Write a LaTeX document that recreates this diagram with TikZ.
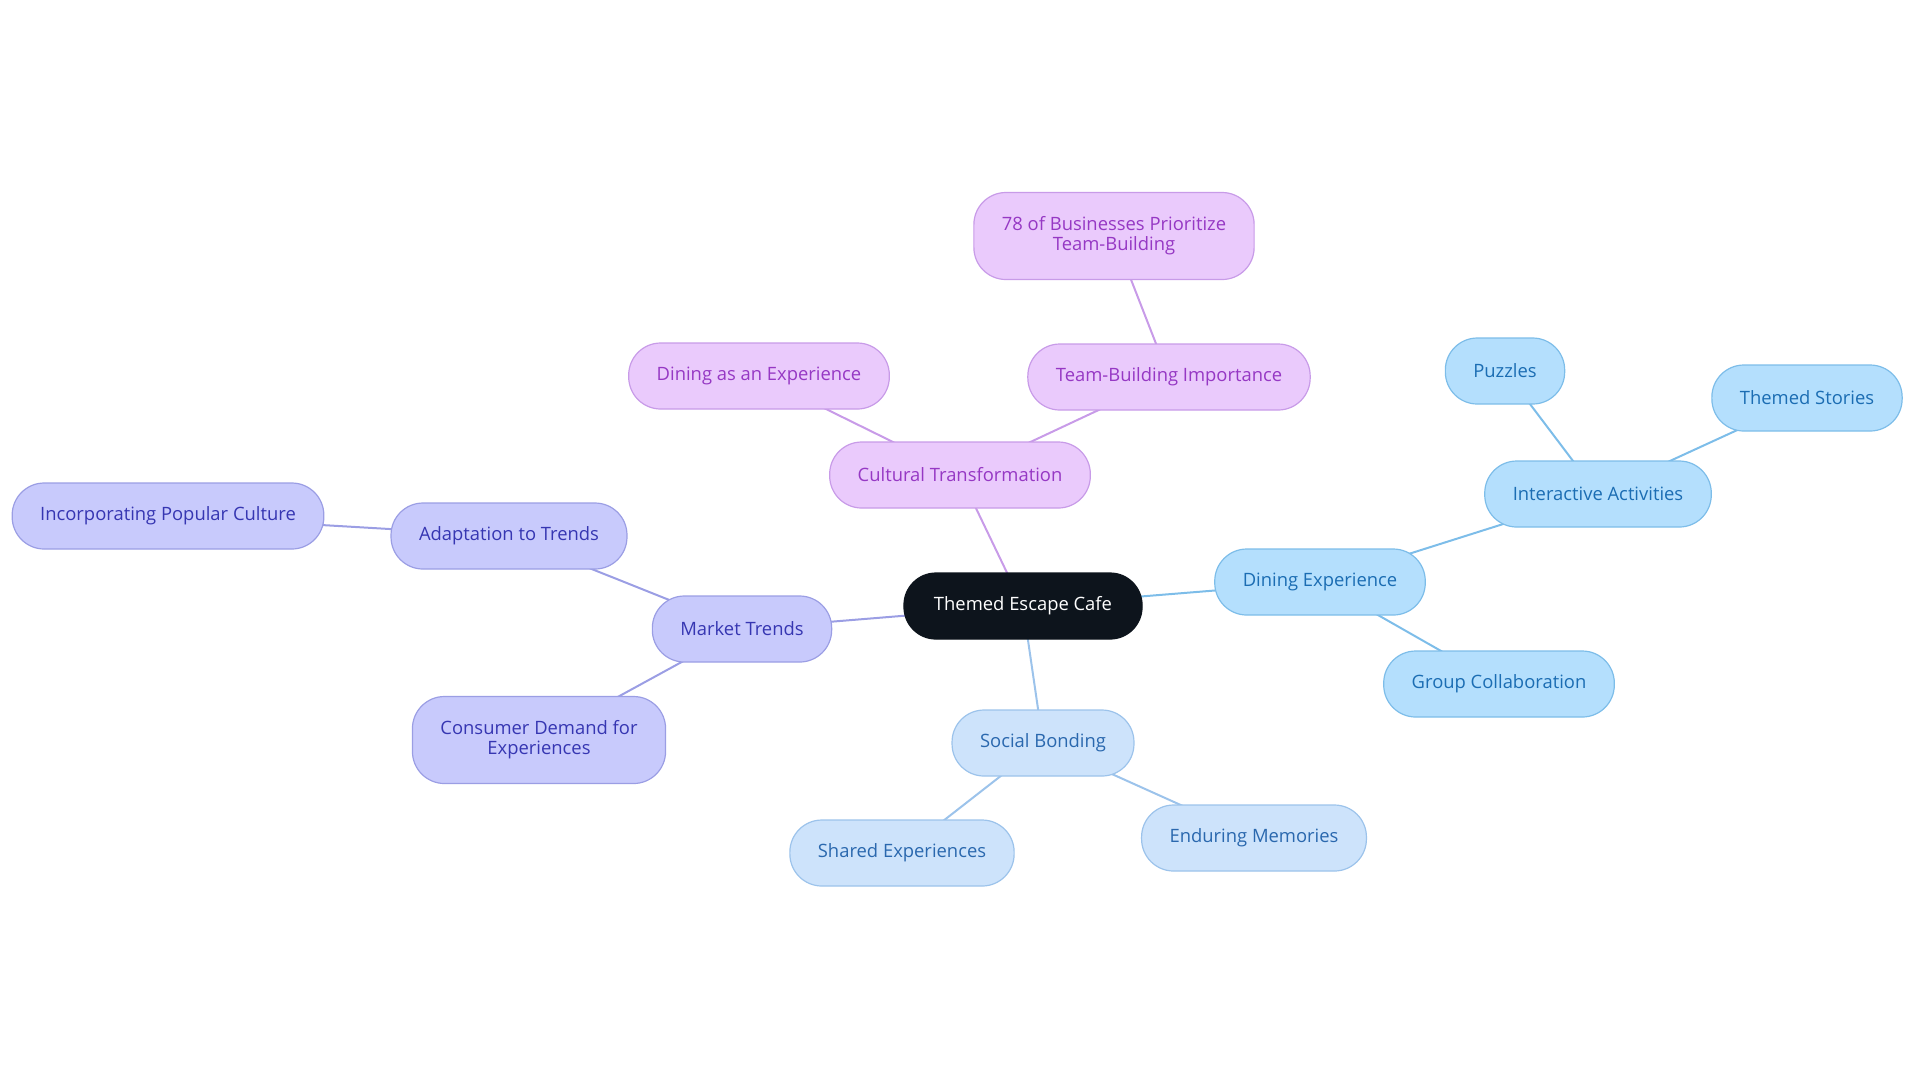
\documentclass[tikz,border=0pt]{standalone}
\usepackage{fontspec}
\setmainfont{Open Sans}
\usetikzlibrary{backgrounds}
\definecolor{rootfill}{HTML}{0D141C}
\definecolor{purfill}{HTML}{EACAFC}
\definecolor{purline}{HTML}{C89BE8}
\definecolor{purtext}{HTML}{9638C4}
\definecolor{bluefill}{HTML}{B4DFFD}
\definecolor{blueline}{HTML}{7DBDE9}
\definecolor{bluetext}{HTML}{1B6DB3}
\definecolor{skyfill}{HTML}{CDE3FB}
\definecolor{skyline}{HTML}{9CC3EB}
\definecolor{skytext}{HTML}{2A68AE}
\definecolor{indfill}{HTML}{C8CAFC}
\definecolor{indline}{HTML}{9B9EE4}
\definecolor{indtext}{HTML}{3636B2}
\begin{document}
\begin{tikzpicture}[x=0.5pt,y=-0.5pt,line join=round,line cap=round,font=\fontsize{9.2}{10}\selectfont,
	box/.style={draw,line width=0.6pt,rounded corners=16pt,minimum height=33pt,inner xsep=14pt,align=center},
	root/.style={box,fill=rootfill,draw=rootfill,text=white,inner xsep=15pt},
	pur/.style={box,fill=purfill,draw=purline,text=purtext},
	blu/.style={box,fill=bluefill,draw=blueline,text=bluetext},
	sky/.style={box,fill=skyfill,draw=skyline,text=skytext},
	ind/.style={box,fill=indfill,draw=indline,text=indtext},
	tall/.style={minimum height=43.5pt,rounded corners=16pt},
	link/.style={line width=1pt}]
			\useasboundingbox (0,0) rectangle (1920,1083);
			% centre
			\node[root] (cafe) at (1023,606) {Themed Escape Cafe};
			% cultural branch
			\node[pur] (cult) at (960,475) {Cultural Transformation};
			\node[pur] (dine) at (759,376) {Dining as an Experience};
			\node[pur] (team) at (1169,377) {Team-Building Importance};
			\node[pur,tall] (biz) at (1114,236) {78 of Businesses Prioritize\\Team-Building};
			% dining branch
			\node[blu] (dexp) at (1320,582) {Dining Experience};
			\node[blu] (inter) at (1598,494) {Interactive Activities};
			\node[blu] (puz) at (1505,371) {Puzzles};
			\node[blu] (story) at (1807,398) {Themed Stories};
			\node[blu] (group) at (1499,684) {Group Collaboration};
			% social branch
			\node[sky] (soc) at (1043,743) {Social Bonding};
			\node[sky] (shared) at (902,853) {Shared Experiences};
			\node[sky] (mem) at (1254,838) {Enduring Memories};
			% market branch
			\node[ind] (mkt) at (742,629) {Market Trends};
			\node[ind] (adapt) at (509,536) {Adaptation to Trends};
			\node[ind] (pop) at (168,516) {Incorporating Popular Culture};
			\node[ind,tall] (dem) at (539,740) {Consumer Demand for\\Experiences};
			% links under the boxes
			\begin{scope}[on background layer]
			\draw[link,purline] (cafe.center)--(cult.center) (cult.center)--(dine.center)
			(cult.center)--(team.center) (team.center)--(biz.center);
			\draw[link,blueline] (cafe.center)--(dexp.center) (dexp.center)--(inter.center)
			(inter.center)--(puz.center) (inter.center)--(story.center) (dexp.center)--(group.center);
			\draw[link,skyline] (cafe.center)--(soc.center) (soc.center)--(shared.center) (soc.center)--(mem.center);
			\draw[link,indline] (cafe.center)--(mkt.center) (mkt.center)--(adapt.center)
			(adapt.center)--(pop.center) (mkt.center)--(dem.center);
			\end{scope}
		\end{tikzpicture}
\end{document}
